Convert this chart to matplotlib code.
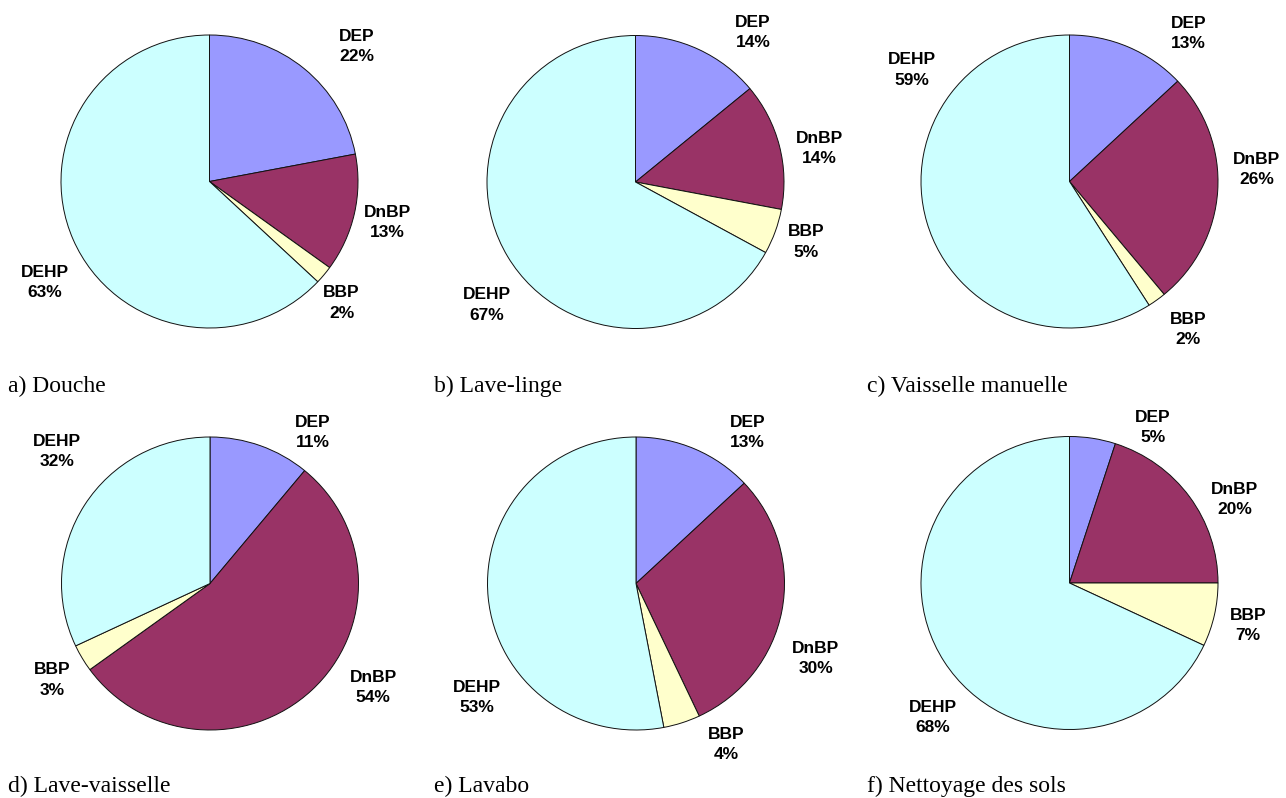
import numpy as np
import matplotlib
matplotlib.use('Agg')
import matplotlib.pyplot as plt

# data: share of each phthalate per usage (%)
compounds = ['DEP', 'DnBP', 'BBP', 'DEHP']
douche = [22, 13, 2, 63]
lave_linge = [14, 14, 5, 67]
vaisselle_manuelle = [13, 26, 2, 59]
lave_vaisselle = [11, 54, 3, 32]
lavabo = [13, 30, 4, 53]
nettoyage_sols = [5, 20, 7, 68]
captions = ['a) Douche', 'b) Lave-linge', 'c) Vaisselle manuelle',
            'd) Lave-vaisselle', 'e) Lavabo', 'f) Nettoyage des sols']

colors = ['#9999FF', '#993366', '#FFFFCC', '#CCFFFF']

# layout (pixels)
W, H = 1286, 798
rx, ry = 148.5, 146.5
centers = [(209.5, 181.5), (635.5, 182), (1069.5, 181.5),
           (210, 583.5), (636, 583.5), (1069.5, 583)]
cap_xy = [(8, 392), (434, 392), (867, 392),
          (8, 792), (434, 792), (867, 792)]
# label offsets in pie-radius units (labels were placed by hand in the original)
label_off = [
    [(0.99, 0.92), (1.20, -0.28), (0.89, -0.83), (-1.11, -0.69)],
    [(0.79, 1.02), (1.24, 0.23), (1.15, -0.41), (-1.00, -0.84)],
    [(0.80, 1.01), (1.26, 0.08), (0.80, -1.01), (-1.06, 0.76)],
    [(0.69, 1.03), (1.10, -0.71), (-1.06, -0.66), (-1.03, 0.90)],
    [(0.75, 1.03), (1.21, -0.51), (0.61, -1.10), (-1.07, -0.78)],
    [(0.56, 1.06), (1.11, 0.57), (1.20, -0.29), (-0.92, -0.92)],
]

series = [douche, lave_linge, vaisselle_manuelle, lave_vaisselle, lavabo, nettoyage_sols]

fig = plt.figure(figsize=(W / 100, H / 100), dpi=100)
fig.patch.set_facecolor('white')

ext = 1.45
for i, vals in enumerate(series):
    cx, cy = centers[i]
    aw, ah = 2 * ext * rx, 2 * ext * ry
    ax = fig.add_axes([(cx - aw / 2) / W, 1 - (cy + ah / 2) / H, aw / W, ah / H])
    ax.pie(vals, colors=colors, startangle=90, counterclock=False, radius=1,
           wedgeprops=dict(edgecolor='#111111', linewidth=0.7))
    ax.set_aspect('auto')
    ax.set_xlim(-ext, ext)
    ax.set_ylim(-ext, ext)
    ax.axis('off')
    for j, name in enumerate(compounds):
        dx, dy = label_off[i][j]
        ax.text(dx, dy, '%s\n%d%%' % (name, vals[j]), ha='center', va='center',
                ma='center', fontsize=12.5, fontweight='bold', linespacing=1.45,
                family='Liberation Sans', clip_on=False)
    x, y = cap_xy[i]
    fig.text(x / W, 1 - y / H, captions[i], ha='left', va='baseline',
             fontsize=17, family='Liberation Serif')

fig.savefig('out.png', dpi=100, facecolor='white')
